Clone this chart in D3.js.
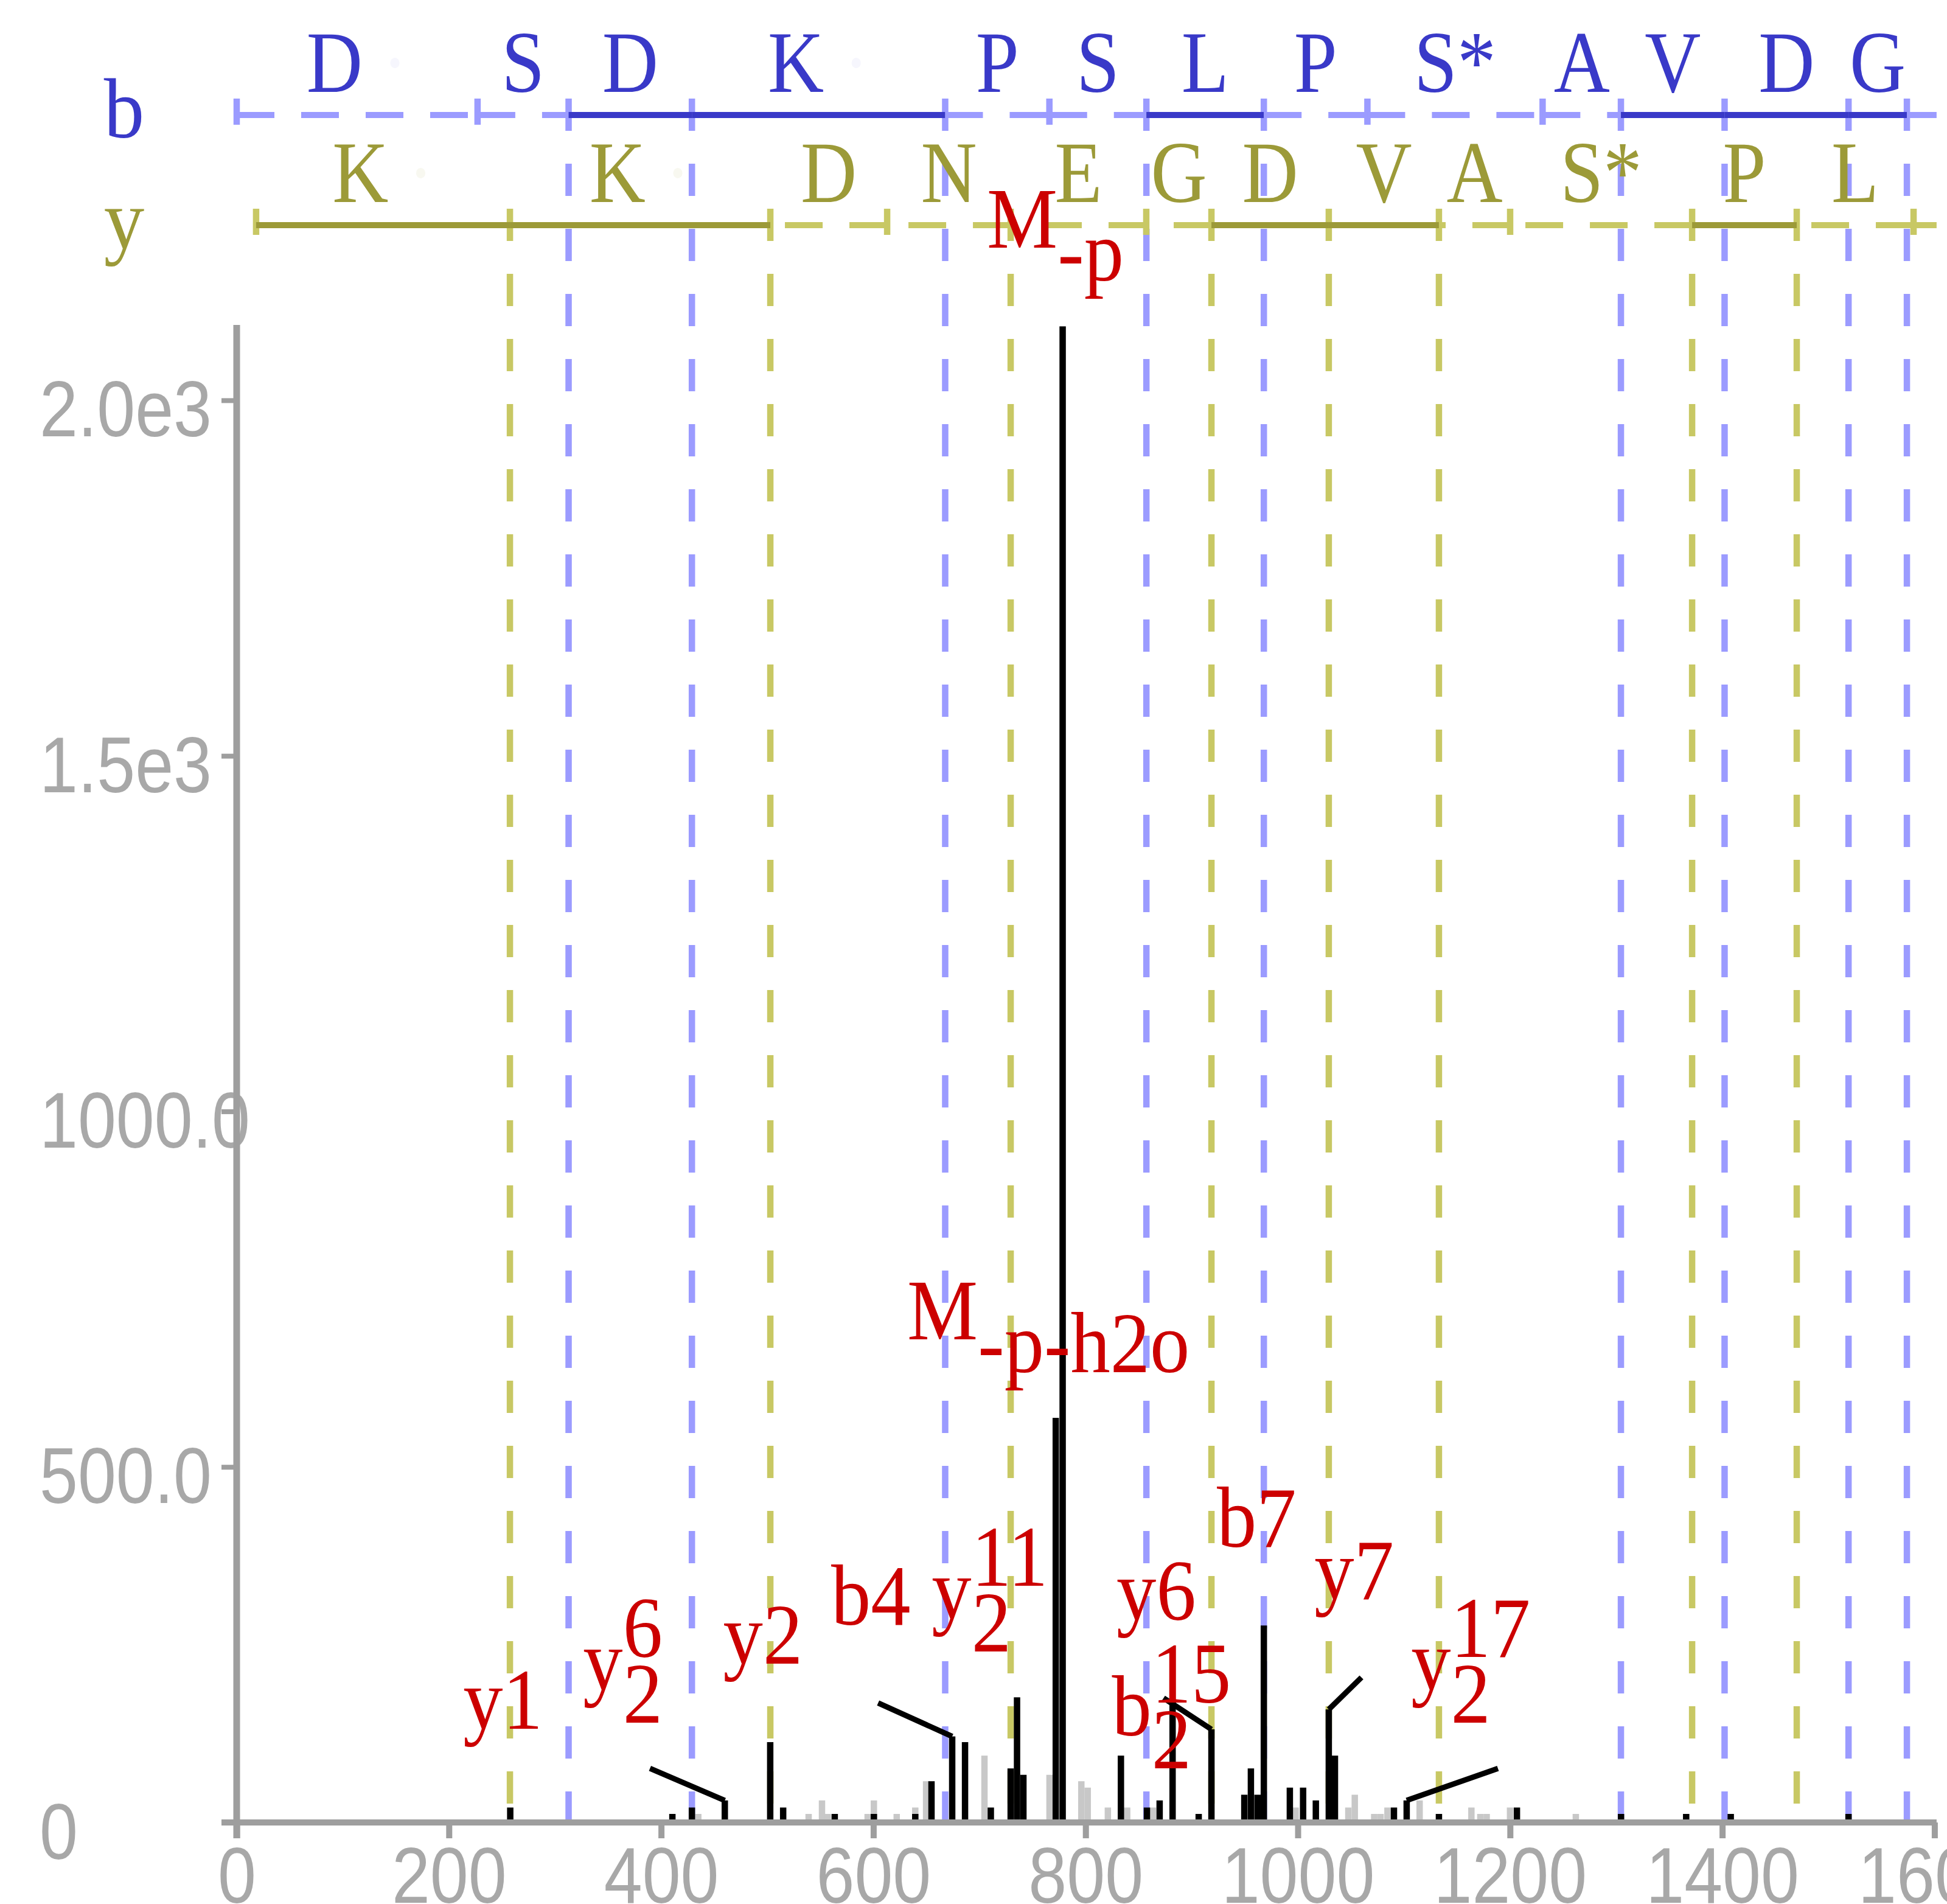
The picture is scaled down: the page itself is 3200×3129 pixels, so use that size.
<!DOCTYPE html>
<html>
<head>
<meta charset="utf-8">
<title>Annotated spectrum</title>
<script src="https://cdn.jsdelivr.net/npm/d3@7"></script>
<style>
  body { margin: 0; background: #fff; }
  svg { display: block; }
</style>
</head>
<body>
<svg id="spectrum"></svg>
<script>
const width = 3200;
const height = 3129;

// b ladder: m/z of each boundary (first = row start, last = row end)
const bPoints = [0, 227, 312.8, 429, 667.7, 765.9, 857.3, 968, 1065.6, 1230.7, 1304.5, 1402.2, 1519, 1574, 1602];
const bMatched = [0, 0, 1, 1, 1, 0, 1, 1, 0, 0, 1, 1, 1, 1, 0];
const bResidues = ["D", "S", "D", "K", "P", "S", "L", "P", "S*", "A", "V", "D", "G"];
const bModified = [1, 0, 0, 1, 0, 0, 0, 0, 0, 0, 0, 0, 0];

// y ladder
const yPoints = [18.3, 257.5, 502.9, 613, 729.4, 857.2, 918.6, 1029.2, 1133, 1200.1, 1371.6, 1470.2, 1580.3, 1602];
const yMatched = [1, 1, 1, 0, 1, 0, 1, 1, 1, 0, 1, 1, 0, 0];
const yResidues = ["K", "K", "D", "N", "E", "G", "D", "V", "A", "S*", "P", "L"];
const yModified = [1, 1, 0, 0, 0, 0, 0, 0, 0, 0, 0, 0];

// peaks (m/z, intensity, matched = drawn black)
const peakMz = [257.8, 410.6, 429, 435, 460, 502.8, 515, 539, 551.6, 557, 563.6, 594.6, 600.5, 600.5, 622,
  639.5, 639.5, 649.7, 654.8, 674.3, 686.4, 704.7, 710.7, 729.4, 735.4, 741.4, 766, 771.9, 778.4, 796,
  802, 821, 833.3, 839.2, 857.8, 863.6, 869.8, 882, 906.6, 918.6, 949.6, 955.8, 962, 968, 992.5,
  998, 1005, 1017, 1029.2, 1035, 1047.6, 1053.7, 1072, 1078, 1084.5, 1090.6, 1102.6, 1114.8, 1133,
  1163.6, 1172, 1178, 1200, 1206.5, 1262, 1304.6, 1366, 1408, 1519];
const peakIntensity = [21, 12, 21, 12, 31, 113, 21, 12, 31, 12, 12, 12, 31, 12, 12,
  21, 12, 58, 58, 121, 113, 94, 21, 76, 176, 67, 67, 569, 2104, 58,
  49, 21, 94, 21, 21, 21, 31, 171, 12, 131, 39, 76, 39, 277, 49,
  21, 49, 31, 159, 94, 21, 39, 12, 12, 21, 21, 31, 31, 12,
  21, 12, 12, 21, 21, 12, 12, 12, 12, 12];
const peakMatched = [1, 1, 1, 0, 1, 1, 1, 0, 0, 0, 1, 0, 0, 1, 0,
  0, 1, 0, 1, 1, 1, 0, 1, 1, 1, 1, 0, 1, 1, 0,
  0, 0, 1, 0, 1, 0, 1, 1, 1, 1, 1, 1, 1, 1, 1,
  0, 1, 1, 1, 1, 0, 0, 0, 0, 0, 1, 1, 0, 1,
  0, 0, 0, 0, 1, 0, 1, 1, 1, 1];

// peak annotations; anchor null = label sits over its peak, otherwise a leader is drawn
const annBase = ["y1", "y", "y2", "b4", "y", "M", "M", "y6", "b", "b7", "y7", "y"];
const annSub = ["", "2", "", "", "2", "-p-h2o", "-p", "", "2", "", "", "2"];
const annSup = ["", "6", "", "", "11", "", "", "", "15", "", "", "17"];
const annPeakMz = [257.8, 460, 502.8, 674.3, 735.4, 771.9, 778.4, 918.6, 906.6, 968, 1029.2, 1102.6];
const annAnchorMz = [null, 389.5, null, 604.5, null, null, null, 873.5, null, null, 1060, 1188.6];
const annAnchorInt = [null, 76, null, 168, null, null, null, 175, null, null, 204, 76];

const xTicks = [0, 200, 400, 600, 800, 1000, 1200, 1400, 1600];
const yTicks = [0, 500, 1000, 1500, 2000];
const yTickLabels = ["0", "500.0", "1000.0", "1.5e3", "2.0e3"];

const serif = "'Liberation Serif', 'Times New Roman', serif";
const sans = "'Liberation Sans', Arial, sans-serif";
const axisColor = "#9e9e9e";

const svg = d3.select("#spectrum")
  .attr("width", width)
  .attr("height", height);

const x = d3.scaleLinear().domain([0, 1602]).range([389, 3182.9]);
const y = d3.scaleLinear().domain([0, 2106]).range([2995, 534]);

function measure(str, size, family) {
  if (!str) return 0;
  const t = svg.append("text").attr("font-family", family).attr("font-size", size).text(str);
  const w = t.node().getComputedTextLength();
  t.remove();
  return w;
}

// one fragment ladder row with its guide lines
function drawLadder(points, matched, residues, modified, opt) {
  const g = svg.append("g");
  const last = points.length - 1;

  // dashed guides for matched ions, down to the axis
  points.forEach((p, i) => {
    if (i === 0 || i === last || !matched[i]) return;
    g.append("line")
      .attr("x1", x(p)).attr("x2", x(p))
      .attr("y1", opt.guideTop).attr("y2", y(0))
      .attr("stroke", opt.light)
      .attr("stroke-width", 10.5)
      .attr("stroke-dasharray", "53 54");
  });

  // short ticks for the start and the unmatched ions
  points.forEach((p, i) => {
    if (i === last) return;
    if (i !== 0 && matched[i]) return;
    g.append("line")
      .attr("x1", x(p)).attr("x2", x(p))
      .attr("y1", opt.guideTop).attr("y2", opt.tickBottom)
      .attr("stroke", opt.light)
      .attr("stroke-width", 10.5);
  });

  // row segments
  for (let i = 0; i < last; i++) {
    const solid = matched[i] && matched[i + 1];
    const from = opt.reverse ? points[i + 1] : points[i];
    const to = opt.reverse ? points[i] : points[i + 1];
    g.append("line")
      .attr("x1", x(from)).attr("x2", x(to))
      .attr("y1", opt.rowY).attr("y2", opt.rowY)
      .attr("stroke", solid ? opt.dark : opt.light)
      .attr("stroke-width", 10)
      .attr("stroke-dasharray", solid ? null : "62 44");
  }

  // residues
  residues.forEach((r, i) => {
    const cx = (x(points[i]) + x(points[i + 1])) / 2;
    const t = g.append("text")
      .attr("transform", `translate(${cx},${opt.letterY}) scale(0.88,1)`)
      .attr("text-anchor", "middle")
      .attr("font-family", serif)
      .attr("font-size", 145)
      .attr("fill", opt.dark);
    t.append("tspan").text(r);
    if (modified[i]) t.append("tspan").attr("fill", opt.faint).text("\u00a0\u00b7");
  });

  g.append("text")
    .attr("transform", `translate(204,${opt.nameY}) scale(0.95,1)`)
    .attr("text-anchor", "middle")
    .attr("font-family", serif)
    .attr("font-size", 140)
    .attr("fill", opt.dark)
    .text(opt.name);
}

drawLadder(bPoints, bMatched, bResidues, bModified, {
  name: "b", nameY: 226, rowY: 189, letterY: 151, guideTop: 162, tickBottom: 205,
  light: "#9b9bff", dark: "#3939c8", faint: "#f6f6fd", reverse: false
});
drawLadder(yPoints, yMatched, yResidues, yModified, {
  name: "y", nameY: 408, rowY: 370, letterY: 332, guideTop: 343, tickBottom: 386,
  light: "#c8c864", dark: "#9c9a38", faint: "#f8f8f0", reverse: true
});

// peaks: unmatched first, matched on top
const peaks = peakMz.map((mz, i) => ({ mz, intensity: peakIntensity[i], matched: peakMatched[i] }));
const ordered = peaks.filter(d => !d.matched).concat(peaks.filter(d => d.matched));
svg.append("g")
  .selectAll("rect")
  .data(ordered)
  .join("rect")
  .attr("x", d => x(d.mz) - 5.25)
  .attr("width", 10.5)
  .attr("y", d => y(d.intensity))
  .attr("height", d => y(0) - y(d.intensity))
  .attr("fill", d => d.matched ? "#000" : "#c8c8c8");

// axes
const xAxis = d3.axisBottom(x).tickValues(xTicks).tickSize(26).tickSizeOuter(0).tickFormat(d3.format("d"));
const gx = svg.append("g").attr("transform", `translate(0,${y(0)})`).call(xAxis);
gx.select(".domain").remove();
gx.attr("font-family", sans).attr("font-size", 130);
gx.selectAll(".tick line").attr("stroke", axisColor).attr("stroke-width", 10);
gx.selectAll(".tick text")
  .attr("fill", "#a8a8a8")
  .attr("y", 132)
  .attr("dy", null)
  .attr("transform", "scale(0.87,1)");

const yAxis = d3.axisLeft(y).tickValues(yTicks).tickSize(25).tickSizeOuter(0)
  .tickFormat((d, i) => yTickLabels[i]);
const gy = svg.append("g").attr("transform", `translate(${x(0)},0)`).call(yAxis);
gy.select(".domain").remove();
gy.attr("font-family", sans).attr("font-size", 130);
gy.selectAll(".tick line").attr("stroke", axisColor).attr("stroke-width", 8);
gy.selectAll(".tick text")
  .attr("fill", "#a8a8a8")
  .attr("text-anchor", "start")
  .attr("x", (65 - x(0)) / 0.87)
  .attr("y", 59)
  .attr("dy", null)
  .attr("transform", "scale(0.87,1)");

svg.append("line")
  .attr("x1", x(0) - 25).attr("x2", x.range()[1])
  .attr("y1", y(0)).attr("y2", y(0))
  .attr("stroke", axisColor).attr("stroke-width", 10);
svg.append("line")
  .attr("x1", x(0)).attr("x2", x(0))
  .attr("y1", y.range()[1]).attr("y2", y(0) + 26)
  .attr("stroke", axisColor).attr("stroke-width", 11);

// annotations
const labelSize = 142;
const labelScale = 0.92;
const leaders = svg.append("g");
const labels = svg.append("g")
  .attr("font-family", serif)
  .attr("font-size", labelSize)
  .attr("fill", "#cc0000");

function putText(str, px, py) {
  if (!str) return;
  labels.append("text")
    .attr("transform", `translate(${px},${py}) scale(${labelScale},1)`)
    .text(str);
}

annBase.forEach((base, i) => {
  const pi = peakMz.indexOf(annPeakMz[i]);
  const px = x(annPeakMz[i]);
  const py = y(peakIntensity[pi]);
  const moved = annAnchorMz[i] !== null;
  const ax = moved ? x(annAnchorMz[i]) : px;
  const ay = moved ? y(annAnchorInt[i]) : py;
  if (moved) {
    leaders.append("line")
      .attr("x1", ax).attr("y1", ay)
      .attr("x2", px).attr("y2", py)
      .attr("stroke", "#000")
      .attr("stroke-width", 9);
  }
  const wb = measure(base, labelSize, serif) * labelScale;
  const ws = measure(annSub[i], labelSize, serif) * labelScale;
  const wp = measure(annSup[i], labelSize, serif) * labelScale;
  const start = ax - 12 - (wb + ws + wp) / 2;
  const baseY = ay - 129;
  putText(base, start, baseY);
  putText(annSub[i], start + wb, baseY + 54);
  putText(annSub[i] ? annSup[i] : annSup[i], start + wb, baseY - 54);
});
</script>
</body>
</html>
